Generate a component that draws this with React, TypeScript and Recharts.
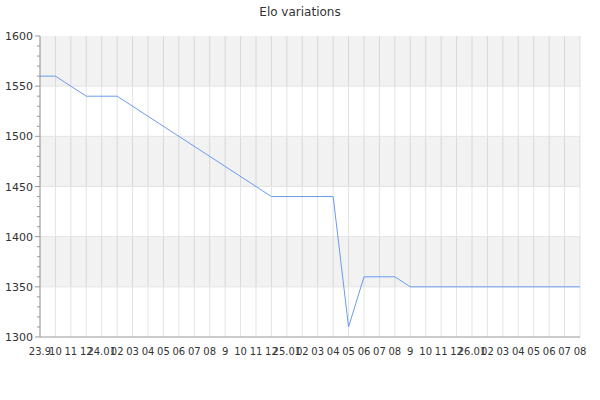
import { CartesianGrid, Line, LineChart, ReferenceArea, ReferenceLine, XAxis, YAxis } from 'recharts'

// month index since 2023-09 -> elo
const months = [0, 1, 3, 5, 15, 19, 20, 21, 23, 24, 35]
const elo = [1560, 1560, 1540, 1540, 1440, 1440, 1310, 1360, 1360, 1350, 1350]

const monthLabels = [
  '23.9', '10', '11', '12',
  '24.01', '02', '03', '04', '05', '06', '07', '08', '9', '10', '11', '12',
  '25.01', '02', '03', '04', '05', '06', '07', '08', '9', '10', '11', '12',
  '26.01', '02', '03', '04', '05', '06', '07', '08',
]

const gridLines = [1350, 1400, 1450, 1500, 1550]
const shadedBands = [
  [1550, 1600],
  [1450, 1500],
  [1350, 1400],
]
const yTicks = Array.from({ length: 31 }, (_, i) => 1300 + i * 10)

const data = months.map((m, i) => ({ m, elo: elo[i] }))
const xTicks = monthLabels.map((_, i) => i)

const FONT = '"DejaVu Sans", sans-serif'

function XTick({ x, y, payload }: any) {
  return (
    <text x={x} y={y + 18} textAnchor="middle" fontSize={10} fontFamily={FONT} fill="#333">
      {monthLabels[payload.value]}
    </text>
  )
}

function YTick({ x, y, payload }: any) {
  const major = payload.value % 50 === 0
  return (
    <g>
      <line x1={x - (major ? 5 : 3)} x2={x} y1={y} y2={y} stroke="#999" />
      {major && (
        <text x={x - 7} y={y + 4} textAnchor="end" fontSize={11} fontFamily={FONT} fill="#333">
          {payload.value}
        </text>
      )}
    </g>
  )
}

export default function App() {
  return (
    <div style={{ position: 'absolute', left: 0, top: 0, width: 600, height: 400, background: '#fff' }}>
      <div
        style={{
          position: 'absolute',
          top: 5,
          width: 600,
          textAlign: 'center',
          fontFamily: FONT,
          fontSize: 12,
          lineHeight: '14px',
          color: '#333',
        }}
      >
        Elo variations
      </div>
      <LineChart width={600} height={400} data={data} margin={{ top: 36, right: 20, bottom: 43, left: 0 }}>
        {shadedBands.map(([lo, hi]) => (
          <ReferenceArea key={lo} y1={lo} y2={hi} fill="#000" fillOpacity={0.05} stroke="none" />
        ))}
        <CartesianGrid horizontal={false} stroke="#e4e4e4" />
        {gridLines.map((v) => (
          <ReferenceLine key={v} y={v} stroke="#e4e4e4" />
        ))}
        <XAxis
          dataKey="m"
          type="number"
          domain={[0, 35]}
          ticks={xTicks}
          interval={0}
          height={20}
          tickSize={0}
          tickMargin={0}
          tickLine={false}
          tick={<XTick />}
          stroke="#999"
        />
        <YAxis
          domain={[1300, 1600]}
          ticks={yTicks}
          interval={0}
          width={40}
          tickSize={0}
          tickMargin={0}
          tickLine={false}
          tick={<YTick />}
          stroke="#999"
        />
        <Line
          type="linear"
          dataKey="elo"
          stroke="#6a9bf0"
          strokeWidth={1}
          dot={false}
          isAnimationActive={false}
        />
      </LineChart>
    </div>
  )
}
